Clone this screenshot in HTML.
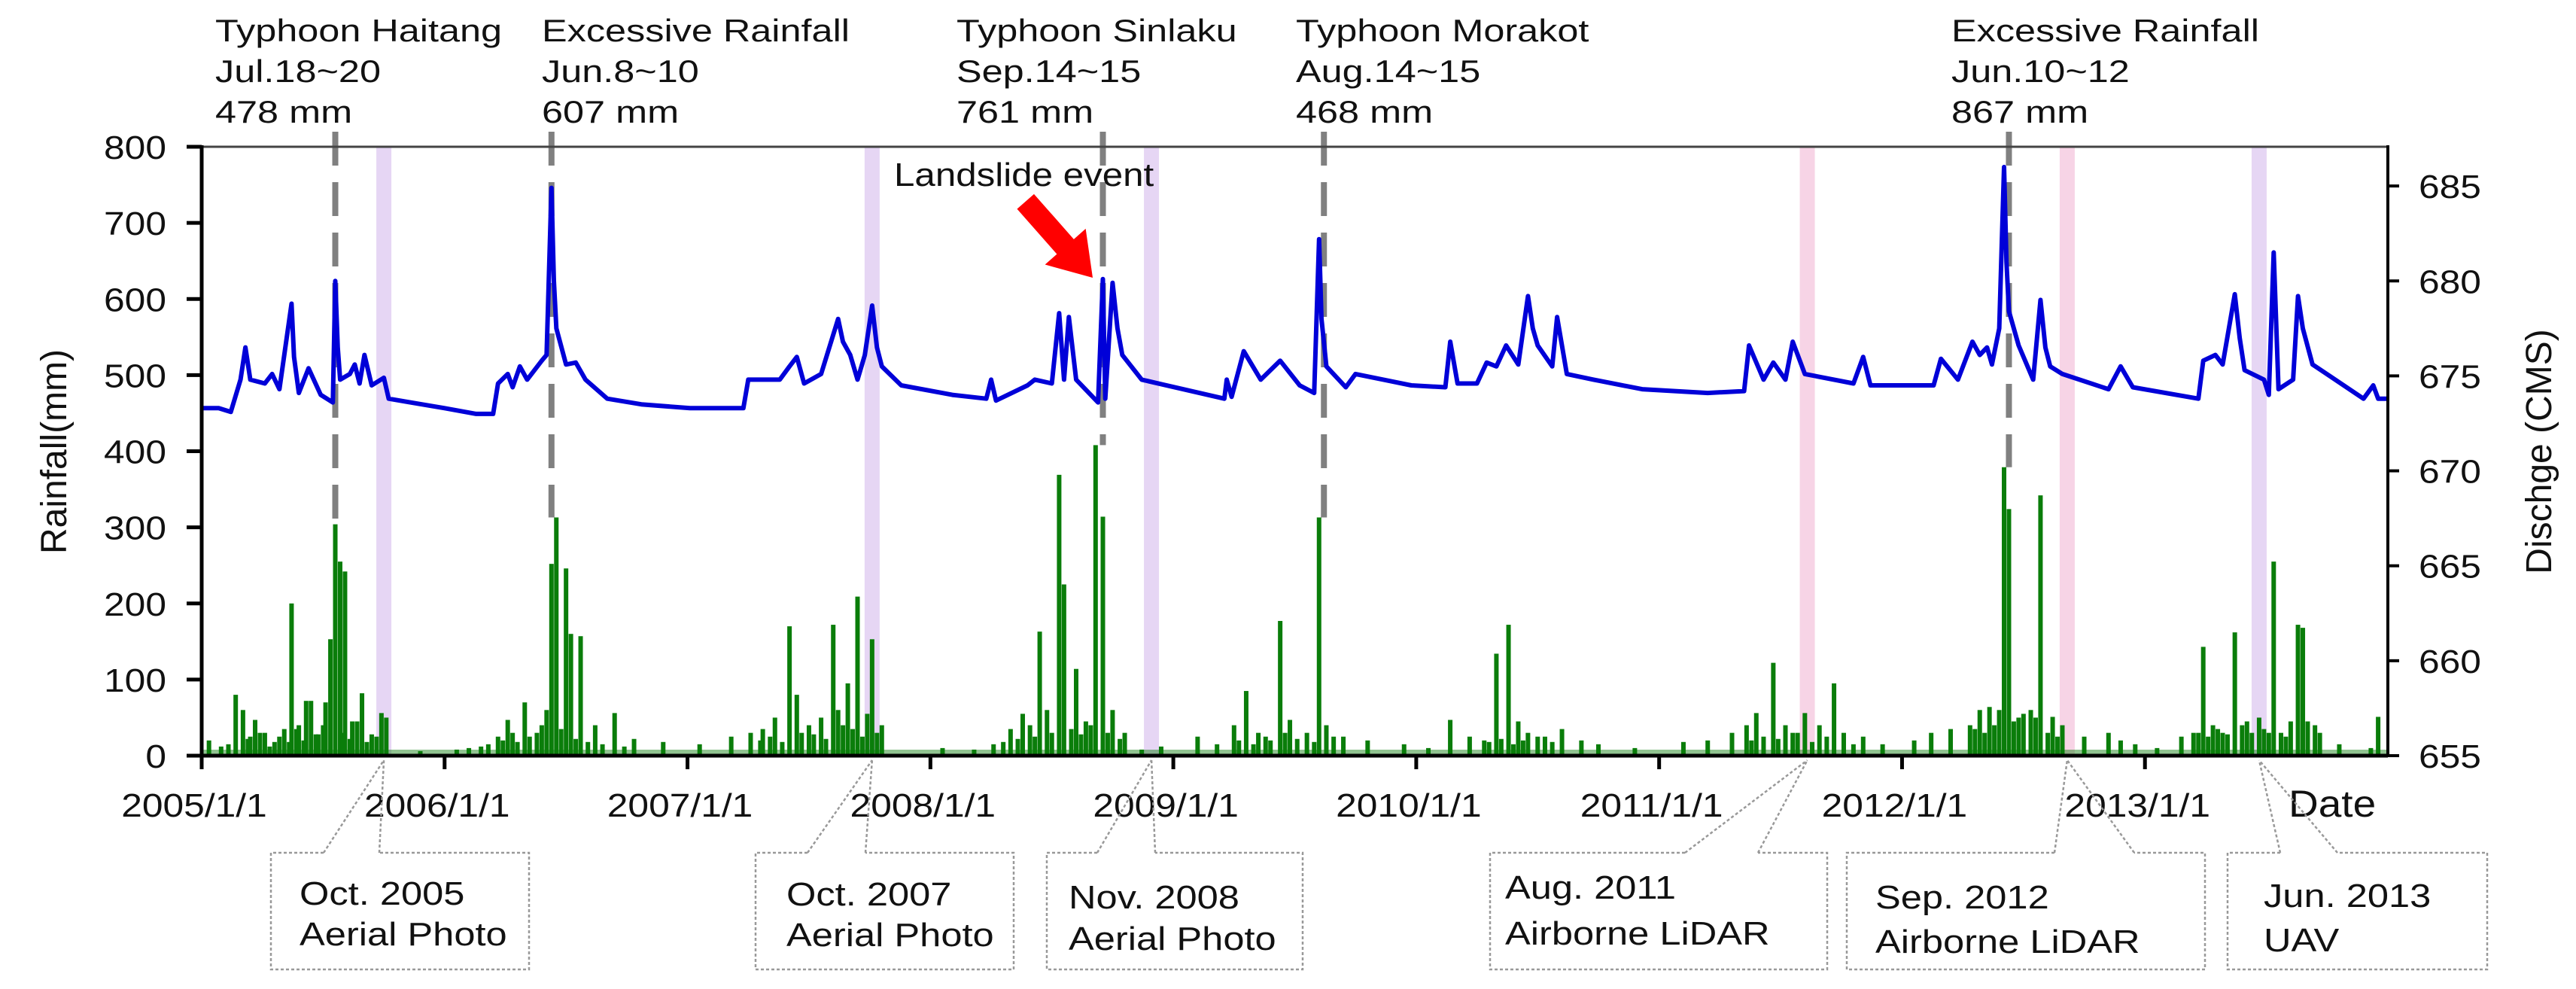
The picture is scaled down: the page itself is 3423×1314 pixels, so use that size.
<!DOCTYPE html>
<html><head><meta charset="utf-8"><style>
html,body{margin:0;padding:0;background:#fff;}
svg{display:block;font-family:"Liberation Sans",Arial,sans-serif;}
</style></head><body>
<svg id="chart" width="3423" height="1314" viewBox="0 0 3423 1314" xmlns="http://www.w3.org/2000/svg">
<g id="bands"></g>
<g id="events"></g>
<g id="rain"></g>
<g id="flow"></g>
<g id="axes"></g>
<g id="labels"></g>
</svg>
<script>
// ---- data ----
const xTickYears = [2005,2006,2007,2008,2009,2010,2011,2012,2013];
const xTickLabels = ["2005/1/1","2006/1/1","2007/1/1","2008/1/1","2009/1/1","2010/1/1","2011/1/1","2012/1/1","2013/1/1"];
const leftTicks = [0,100,200,300,400,500,600,700,800];
const rightTicks = [655,660,665,670,675,680,685];

const flowDates = [2005.00,2005.07,2005.12,2005.16,2005.18,2005.20,2005.26,2005.29,2005.32,2005.37,2005.38,2005.40,2005.44,2005.49,2005.54,2005.55,2005.56,2005.57,2005.61,2005.63,2005.65,2005.67,2005.70,2005.75,2005.77,2005.86,2006.00,2006.13,2006.20,2006.22,2006.26,2006.28,2006.31,2006.34,2006.40,2006.42,2006.44,2006.45,2006.46,2006.50,2006.54,2006.58,2006.67,2006.81,2007.01,2007.23,2007.25,2007.38,2007.42,2007.45,2007.48,2007.55,2007.62,2007.64,2007.67,2007.70,2007.73,2007.76,2007.78,2007.80,2007.88,2008.09,2008.23,2008.25,2008.27,2008.40,2008.43,2008.50,2008.53,2008.55,2008.57,2008.60,2008.69,2008.71,2008.72,2008.75,2008.77,2008.79,2008.87,2009.04,2009.21,2009.22,2009.24,2009.29,2009.36,2009.44,2009.52,2009.58,2009.60,2009.61,2009.63,2009.71,2009.75,2009.98,2010.12,2010.14,2010.17,2010.25,2010.29,2010.33,2010.37,2010.42,2010.46,2010.48,2010.50,2010.56,2010.58,2010.62,2010.73,2010.93,2011.20,2011.35,2011.37,2011.43,2011.47,2011.52,2011.55,2011.60,2011.80,2011.84,2011.87,2012.13,2012.16,2012.23,2012.29,2012.32,2012.35,2012.37,2012.40,2012.42,2012.43,2012.44,2012.48,2012.54,2012.57,2012.59,2012.61,2012.66,2012.85,2012.90,2012.95,2013.22,2013.24,2013.29,2013.32,2013.37,2013.39,2013.41,2013.49,2013.51,2013.53,2013.55,2013.61,2013.63,2013.65,2013.69,2013.76,2013.90,2013.94,2013.96,2014.00];
const flowCMS = [673.3,673.3,673.1,674.8,676.5,674.8,674.6,675.1,674.3,678.8,676.0,674.1,675.4,674.0,673.6,680.0,676.5,674.8,675.1,675.6,674.6,676.1,674.5,674.9,673.8,673.6,673.3,673.0,673.0,674.6,675.1,674.4,675.5,674.8,675.8,676.1,684.9,680.0,677.5,675.6,675.7,674.8,673.8,673.5,673.3,673.3,674.8,674.8,675.5,676.0,674.6,675.1,678.0,676.8,676.1,674.8,676.1,678.7,676.5,675.5,674.5,674.0,673.8,674.8,673.7,674.5,674.8,674.6,678.3,674.8,678.1,674.8,673.6,680.1,673.8,679.9,677.5,676.1,674.8,674.3,673.8,674.8,673.9,676.3,674.8,675.8,674.5,674.1,682.2,678.0,675.5,674.4,675.1,674.5,674.4,676.8,674.6,674.6,675.7,675.5,676.6,675.6,679.2,677.5,676.6,675.5,678.1,675.1,674.8,674.3,674.1,674.2,676.6,674.8,675.7,674.8,676.8,675.1,674.6,676.0,674.5,674.5,675.9,674.8,676.8,676.1,676.5,675.6,677.5,686.0,681.0,678.4,676.6,674.8,679.0,676.5,675.5,675.1,674.3,675.5,674.4,673.8,675.8,676.1,675.6,679.3,677.0,675.3,674.8,674.0,681.5,674.3,674.8,679.2,677.5,675.6,675.0,673.8,674.5,673.8,673.8];

const rainDates = [2005.03,2005.08,2005.14,2005.17,2005.20,2005.22,2005.26,2005.30,2005.34,2005.37,2005.40,2005.43,2005.45,2005.48,2005.51,2005.53,2005.55,2005.57,2005.59,2005.62,2005.66,2005.70,2005.74,2005.76,
2005.90,2006.05,2006.15,2006.22,2006.26,2006.30,2006.33,2006.38,2006.42,2006.44,2006.46,2006.50,2006.52,2006.56,2006.62,2006.70,2006.78,2006.90,
2007.05,2007.18,2007.26,2007.31,2007.36,2007.42,2007.45,2007.50,2007.55,2007.60,2007.62,2007.66,2007.70,2007.74,2007.76,2007.80,
2008.05,2008.18,2008.26,2008.33,2008.38,2008.41,2008.45,2008.48,2008.53,2008.55,2008.60,2008.64,2008.68,2008.71,2008.75,2008.80,2008.87,2008.95,
2009.10,2009.18,2009.25,2009.30,2009.35,2009.40,2009.44,2009.48,2009.55,2009.60,2009.63,2009.70,
2009.80,2009.95,2010.05,2010.14,2010.22,2010.28,2010.33,2010.38,2010.42,2010.46,2010.50,2010.60,2010.68,2010.75,
2010.90,2011.10,2011.20,2011.30,2011.36,2011.40,2011.47,2011.52,2011.55,2011.60,2011.66,2011.72,2011.76,2011.84,2011.92,
2012.05,2012.12,2012.20,2012.28,2012.32,2012.36,2012.40,2012.42,2012.44,2012.48,2012.53,2012.57,2012.62,2012.66,2012.75,
2012.85,2012.90,2012.96,2013.05,2013.15,2013.20,2013.24,2013.28,2013.32,2013.37,2013.42,2013.47,2013.51,2013.53,2013.56,2013.60,2013.63,2013.65,2013.70,2013.80,2013.93,2013.96,
2005.11,2005.19,2005.24,2005.28,2005.32,2005.36,2005.39,2005.42,2005.47,2005.50,2005.58,2005.61,2005.64,2005.68,2005.72,
2006.10,2006.18,2006.24,2006.28,2006.35,2006.40,2006.48,2006.54,2006.59,2006.65,2006.74,
2007.30,2007.34,2007.39,2007.47,2007.52,2007.57,2007.64,2007.68,2007.72,2007.78,
2008.30,2008.36,2008.43,2008.50,2008.58,2008.62,2008.66,2008.73,2008.78,
2009.27,2009.33,2009.38,2009.46,2009.51,2009.58,2009.66,
2010.30,2010.35,2010.40,2010.44,2010.53,2010.56,
2011.38,2011.43,2011.49,2011.57,2011.63,2011.69,2011.80,
2012.30,2012.34,2012.38,2012.46,2012.50,2012.55,2012.60,2012.64,
2013.22,2013.26,2013.30,2013.34,2013.40,2013.44,2013.49,2013.58,2013.67,2013.72];
const rainMm = [20,12,80,60,25,47,30,18,35,200,40,72,72,28,70,153,304,255,242,45,82,28,56,50,
6,8,12,25,47,18,70,30,60,252,313,246,160,157,40,56,22,18,
15,25,30,35,50,170,80,40,50,172,60,95,209,55,153,40,
10,8,15,35,55,40,163,60,369,225,114,45,408,314,60,30,8,12,
25,15,40,85,30,20,177,47,30,313,40,25,
20,15,10,47,25,20,134,172,45,30,25,35,20,15,
10,18,20,30,40,56,122,40,30,56,40,95,30,25,15,
20,30,35,40,60,64,60,379,324,50,60,342,51,40,25,
30,20,15,10,25,30,143,40,30,162,45,50,30,255,30,45,172,168,40,15,10,51,
15,22,30,12,25,18,35,20,28,40,30,22,45,18,25,
10,15,20,30,25,40,35,22,18,15,12,
20,25,18,30,28,22,40,35,25,30,
18,22,25,30,35,28,40,30,22,
20,15,25,30,22,18,25,
18,22,15,20,25,18,
20,25,22,30,18,25,15,
35,30,40,45,55,50,30,25,
30,25,35,28,40,30,35,25,45,30];

const eventDates = [2005.55,2006.44,2008.71,2009.62,2012.44];
const eventRain = [304,313,408,313,379];
const eventTitles = ["Typhoon Haitang","Excessive Rainfall","Typhoon Sinlaku","Typhoon Morakot","Excessive Rainfall"];
const eventDays = ["Jul.18~20","Jun.8~10","Sep.14~15","Aug.14~15","Jun.10~12"];
const eventTotals = ["478 mm","607 mm","761 mm","468 mm","867 mm"];

const bandDates = [2005.75,2007.76,2008.91,2011.61,2012.68,2013.47];
const bandColors = ["#e6d6f4","#e6d6f4","#e6d6f4","#f7d4e6","#f7d4e6","#e6d6f4"];
const boxLine1 = ["Oct. 2005","Oct. 2007","Nov. 2008","Aug. 2011","Sep. 2012","Jun. 2013"];
const boxLine2 = ["Aerial Photo","Aerial Photo","Aerial Photo","Airborne LiDAR","Airborne LiDAR","UAV"];

// ---- layout ----
const X0=268,X1=3173,Y0=1004,YT=195;
const xs = d => X0 + (d-2005)/9*(X1-X0);
const yL = v => Y0 - v*(Y0-YT)/800;
const yR = c => Y0 - (c-655)*25.23;
const NS="http://www.w3.org/2000/svg";
function mk(tag,attrs,parent){const e=document.createElementNS(NS,tag);for(const k in attrs)e.setAttribute(k,attrs[k]);parent.appendChild(e);return e;}
function txt(s,x,y,size,parent,opts){const t=mk('text',{x:x,y:y,'font-size':size,fill:opts&&opts.fill||'#111'},parent);if(opts&&opts.anchor)t.setAttribute('text-anchor',opts.anchor);t.textContent=s;if(opts&&opts.stretch){const L=t.getComputedTextLength();t.setAttribute('textLength',L*opts.stretch);t.setAttribute('lengthAdjust','spacingAndGlyphs');}return t;}
const G=id=>document.getElementById(id);

// bands
bandDates.forEach((d,i)=>{const r=mk('rect',{x:xs(d)-10,y:YT,width:20,height:Y0-YT,fill:bandColors[i]},G('bands'));

});

// rain bars
rainDates.forEach((d,i)=>{const v=rainMm[i];const r=mk('rect',{x:xs(d)-3,y:yL(v),width:6,height:Y0-yL(v),fill:'#0a7d0a'},G('rain'));

});
const base=mk('rect',{x:X0,y:Y0-8,width:X1-X0,height:8,fill:'#0a7d0a',opacity:0.45},G('rain'));



// event lines
eventDates.forEach((d,i)=>{const l=mk('line',{x1:xs(d),x2:xs(d),y1:175,y2:yL(eventRain[i]),stroke:'#808080','stroke-width':8,'stroke-dasharray':'45,22'},G('events'));

});

// discharge line
const pts=flowDates.map((d,i)=>xs(d).toFixed(1)+','+yR(flowCMS[i]).toFixed(1)).join(' ');
const pl=mk('polyline',{points:pts,fill:'none',stroke:'#0000d8','stroke-width':6,'stroke-linejoin':'round'},G('flow'));



// axes
const A=G('axes');
mk('line',{x1:X0,x2:X1,y1:YT,y2:YT,stroke:'#444','stroke-width':3},A);
mk('line',{x1:X0,x2:X0,y1:YT-2,y2:Y0+18,stroke:'#000','stroke-width':5},A);
mk('line',{x1:X1,x2:X1,y1:YT-2,y2:Y0+2,stroke:'#000','stroke-width':4},A);
mk('line',{x1:X0,x2:X1,y1:Y0,y2:Y0,stroke:'#000','stroke-width':5},A);
leftTicks.forEach(v=>{mk('line',{x1:X0-20,x2:X0,y1:yL(v),y2:yL(v),stroke:'#000','stroke-width':5},A);
const t=txt(String(v),221,yL(v)+16,44,A,{anchor:'end',stretch:1.13});

});
rightTicks.forEach(c=>{mk('line',{x1:X1,x2:X1+15,y1:yR(c),y2:yR(c),stroke:'#000','stroke-width':4},A);
const t=txt(String(c),3214,yR(c)+16,44,A,{stretch:1.13});

});
xTickYears.forEach((y,i)=>{mk('line',{x1:xs(y),x2:xs(y),y1:Y0,y2:Y0+18,stroke:'#000','stroke-width':5},A);
const t=txt(xTickLabels[i],xs(y)-10,1085,44,A,{anchor:'middle',stretch:1.13});

});

// titles
const yt=txt("Rainfall(mm)",0,0,48,A,{anchor:'middle'});yt.setAttribute('transform','translate(88,600) rotate(-90)');


const rt=txt("Dischge (CMS)",0,0,48,A,{anchor:'middle'});rt.setAttribute('transform','translate(3390,600) rotate(-90)');


const dt=txt("Date",3041,1085,50,A,{stretch:1.1});



// event labels
const Lb=G('labels');
const evX=[286,720,1271,1722,2593];
eventTitles.forEach((s,i)=>{
 const a=txt(s,evX[i],55,42,Lb,{stretch:1.2});
 
 
 const b=txt(eventDays[i],evX[i],109,42,Lb,{stretch:1.2});
 
 
 const c=txt(eventTotals[i],evX[i],163,42,Lb,{stretch:1.2});
 
 
});
const ls=txt("Landslide event",1188,247,44,Lb,{stretch:1.12});


const arrow=mk('polygon',{points:'0,0 -55,-36 -55,-15 -135,-15 -135,15 -55,15 -55,36',fill:'#ff0000',transform:'translate(1452,369) rotate(48.6)'},Lb);



// callout boxes
const boxX0=[360,1004,1391,1980,2454,2960];
const boxX1=[703,1347,1731,2428,2930,3305];
const gapA=[430,1073,1458,2239,2730,3030];
const gapB=[504,1150,1535,2336,2836,3106];
const txtX=[398,1045,1420,2000,2492,3008];
const bl1=[1202,1203,1207,1194,1207,1205];
const bl2=[1256,1257,1262,1255,1266,1264];
const BY0=1133,BY1=1288;
boxX0.forEach((x0,i)=>{
 const g=mk('g',{},Lb);
 
 
 const st={stroke:'#999','stroke-width':2.5,'stroke-dasharray':'4,3',fill:'none'};
 const tx=xs(bandDates[i]);
 mk('path',Object.assign({d:`M${gapA[i]},${BY0} H${x0} V${BY1} H${boxX1[i]} V${BY0} H${gapB[i]}`},st),g);
 mk('line',Object.assign({x1:gapA[i],y1:BY0,x2:tx,y2:Y0+6},st),g);
 mk('line',Object.assign({x1:gapB[i],y1:BY0,x2:tx,y2:Y0+6},st),g);
 txt(boxLine1[i],txtX[i],bl1[i],44,g,{stretch:1.15});
 txt(boxLine2[i],txtX[i],bl2[i],44,g,{stretch:1.15});
});
</script>
</body></html>
